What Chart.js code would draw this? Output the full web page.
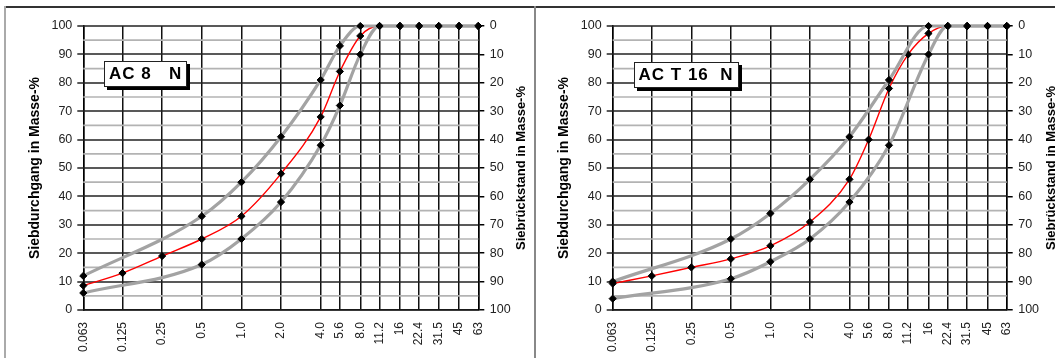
<!DOCTYPE html>
<html><head><meta charset="utf-8">
<script src="https://cdn.jsdelivr.net/npm/chart.js@4.4.1/dist/chart.umd.min.js"></script>
<style>
html,body{margin:0;padding:0;background:#fff;overflow:hidden;width:1055px;height:358px}
#wrap{position:relative;width:1055px;height:358px;overflow:hidden;background:#fff}
.panel{position:absolute;top:7px;width:529px;height:351px}
#p1{left:5px}
#p2{left:534px}
.topline{position:absolute;left:5px;top:6px;width:1050px;height:1.5px;background:#333}
.leftline{position:absolute;left:4px;top:6px;width:2px;height:352px;background:#aaa}
.divline{position:absolute;left:533.5px;top:6px;width:2px;height:352px;background:#888}
.lbl{position:absolute;background:#fff;border:1px solid #222;box-shadow:3px 3px 0 #000;font:bold 17px "Liberation Sans",Arial,sans-serif;letter-spacing:1px;white-space:pre;padding:2px 4px 2px 4px;line-height:20px;color:#000}
</style>
</head><body>
<div id="wrap">
  <div class="panel" id="p1"><canvas id="c1" width="529" height="351"></canvas></div>
  <div class="panel" id="p2"><canvas id="c2" width="529" height="351"></canvas></div>
  <div class="topline"></div>
  <div class="leftline"></div>
  <div class="divline"></div>
  <div class="lbl" style="left:104px;top:61px">AC 8   N</div>
  <div class="lbl" style="left:633.5px;top:62px">AC T 16  N</div>
</div>
<script>
// ---- data ----
const SIEVES = [0.063, 0.125, 0.25, 0.5, 1.0, 2.0, 4.0, 5.6, 8.0, 11.2, 16, 22.4, 31.5, 45, 63];
const SIEVE_LABELS = ['0.063', '0.125', '0.25', '0.5', '1.0', '2.0', '4.0', '5.6', '8.0', '11.2', '16', '22.4', '31.5', '45', '63'];

// AC 8 N
const AC8_CURVE = [8.6, 13, 19, 25, 33, 48, 68, 84, 96.5, 100, 100, 100, 100, 100, 100];
const AC8_UPPER_SIEVES = [0.063, 0.5, 1.0, 2.0, 4.0, 5.6, 8.0, 11.2, 16, 22.4, 31.5, 45, 63];
const AC8_UPPER = [12, 33, 45, 61, 81, 93, 100, 100, 100, 100, 100, 100, 100];
const AC8_LOWER_SIEVES = [0.063, 0.5, 1.0, 2.0, 4.0, 5.6, 8.0, 11.2, 16, 22.4, 31.5, 45, 63];
const AC8_LOWER = [6, 16, 25, 38, 58, 72, 90, 100, 100, 100, 100, 100, 100];

// AC T 16 N
const ACT16_CURVE = [9.3, 12, 15, 18, 22.6, 31, 46, 60, 78, 90, 97.4, 100, 100, 100, 100];
const ACT16_UPPER_SIEVES = [0.063, 0.5, 1.0, 2.0, 4.0, 8.0, 16, 22.4, 31.5, 45, 63];
const ACT16_UPPER = [10, 25, 34, 46, 61, 81, 100, 100, 100, 100, 100];
const ACT16_LOWER_SIEVES = [0.063, 0.5, 1.0, 2.0, 4.0, 8.0, 16, 22.4, 31.5, 45, 63];
const ACT16_LOWER = [4, 11, 17, 25, 38, 58, 90, 100, 100, 100, 100];

const Y_MAJOR_TICKS = [0, 10, 20, 30, 40, 50, 60, 70, 80, 90, 100];
const Y_MINOR_TICKS = [5, 15, 25, 35, 45, 55, 65, 75, 85, 95];
const LEFT_TITLE = 'Siebdurchgang in Masse-%';
const RIGHT_TITLE = 'Siebrückstand in Masse-%';

// ---- helpers ----
const FONT = '"Liberation Sans", Arial, Helvetica, sans-serif';
function pts(xs, ys) { return xs.map((x, i) => ({ x: x, y: ys[i] })); }

// horizontal grid (minor grey, major dark) + left tick marks, positioned by the y scale
const hGrid = {
  id: 'hGrid',
  beforeDatasetsDraw(chart) {
    const { ctx, chartArea: a } = chart;
    const y = chart.scales.y;
    ctx.save();
    Y_MINOR_TICKS.forEach(v => {
      const py = y.getPixelForValue(v);
      ctx.strokeStyle = '#b3b3b3';
      ctx.lineWidth = 1.7;
      ctx.beginPath(); ctx.moveTo(a.left, py); ctx.lineTo(a.right, py); ctx.stroke();
    });
    Y_MAJOR_TICKS.forEach(v => {
      const py = Math.round(y.getPixelForValue(v));
      ctx.strokeStyle = '#222';
      ctx.lineWidth = 1.6;
      ctx.beginPath(); ctx.moveTo(a.left - 6, py); ctx.lineTo(a.right, py); ctx.stroke();
    });
    ctx.restore();
  }
};

const rightTitle = {
  id: 'rightTitle',
  afterDraw(chart, args, opts) {
    const { ctx, chartArea } = chart;
    ctx.save();
    ctx.font = 'bold 13px ' + FONT;
    ctx.fillStyle = '#000';
    ctx.textAlign = 'center';
    ctx.textBaseline = 'middle';
    ctx.translate(opts.x, (chartArea.top + chartArea.bottom) / 2);
    ctx.rotate(-Math.PI / 2);
    ctx.fillText(RIGHT_TITLE, 0, 0);
    ctx.restore();
  }
};

function makeChart(id, curve, upX, upY, loX, loY, leftW, rightW, titleX) {
  const grayStyle = {
    borderColor: '#a3a3a3', borderWidth: 3.2, fill: false,
    cubicInterpolationMode: 'monotone',
    pointStyle: 'rectRot', pointRadius: 3.6, pointBorderWidth: 1,
    pointBackgroundColor: '#000', pointBorderColor: '#000', clip: false
  };
  return new Chart(document.getElementById(id), {
    type: 'line',
    data: {
      datasets: [
        Object.assign({ label: 'upper', data: pts(upX, upY) }, grayStyle),
        Object.assign({ label: 'lower', data: pts(loX, loY) }, grayStyle),
        {
          label: 'curve', data: pts(SIEVES, curve),
          borderColor: '#ff0000', borderWidth: 1.4, fill: false,
          cubicInterpolationMode: 'monotone',
          pointStyle: 'rectRot', pointRadius: 3.6, pointBorderWidth: 1,
          pointBackgroundColor: '#000', pointBorderColor: '#000', clip: false
        }
      ]
    },
    options: {
      responsive: false, animation: false, devicePixelRatio: 1,
      layout: { padding: { top: 19, left: 0, right: 0, bottom: 0 } },
      plugins: { legend: { display: false }, tooltip: { enabled: false }, rightTitle: { x: titleX } },
      scales: {
        x: {
          type: 'logarithmic', min: 0.063, max: 63,
          afterBuildTicks(s) { s.ticks = SIEVES.map(v => ({ value: v })); },
          afterFit(s) { s.height = 48; },
          ticks: {
            autoSkip: false, minRotation: 90, maxRotation: 90, padding: 12,
            color: '#222', font: { family: FONT, size: 12 },
            callback(v, i) { return SIEVE_LABELS[i]; }
          },
          grid: { color: '#111', lineWidth: 1.5, drawTicks: false },
          border: { color: '#000', width: 1.5 }
        },
        y: {
          position: 'left', min: 0, max: 100,
          afterBuildTicks(s) { s.ticks = Y_MAJOR_TICKS.map(v => ({ value: v })); },
          afterFit(s) { s.width = leftW; },
          ticks: { padding: 11, color: '#222', font: { family: FONT, size: 12.5 } },
          grid: { display: false, drawTicks: false },
          border: { color: '#000', width: 1.5 },
          title: {
            display: true, text: LEFT_TITLE, color: '#000',
            font: { family: FONT, size: 14, weight: 'bold' },
            padding: { top: 21.6, bottom: 0 }
          }
        },
        y2: {
          position: 'right', min: 0, max: 100, reverse: true,
          afterBuildTicks(s) { s.ticks = Y_MAJOR_TICKS.map(v => ({ value: v })); },
          afterFit(s) { s.width = rightW; },
          ticks: { padding: 5.5, color: '#222', font: { family: FONT, size: 12.5 } },
          grid: { drawOnChartArea: false, tickLength: 6, tickColor: '#000', lineWidth: 1.5 },
          border: { color: '#000', width: 1.5 }
        }
      }
    },
    plugins: [hGrid, rightTitle]
  });
}

makeChart('c1', AC8_CURVE, AC8_UPPER_SIEVES, AC8_UPPER, AC8_LOWER_SIEVES, AC8_LOWER, 78.3, 55.7, 516);
makeChart('c2', ACT16_CURVE, ACT16_UPPER_SIEVES, ACT16_UPPER, ACT16_LOWER_SIEVES, ACT16_LOWER, 78.7, 56.3, 517);
</script>
</body></html>
